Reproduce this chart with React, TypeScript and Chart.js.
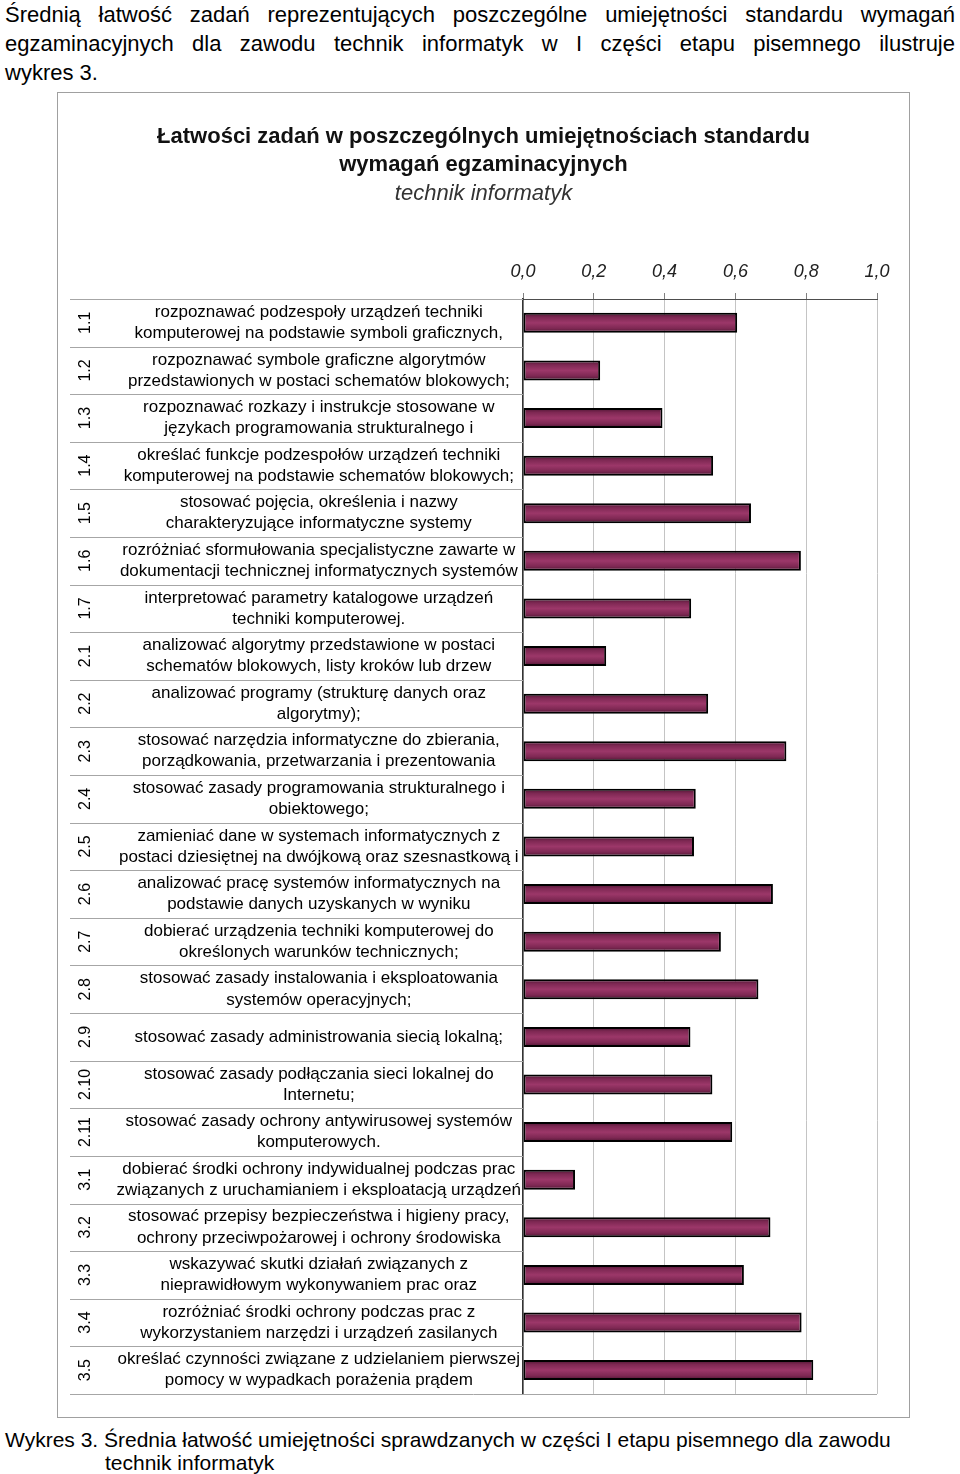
import React, { useEffect, useRef } from 'react';
import { Chart, registerables } from 'chart.js';

Chart.register(...registerables);

const FONT = '"Liberation Sans", Arial, Helvetica, sans-serif';

const introLines = [
  'Średnią łatwość zadań reprezentujących poszczególne umiejętności standardu wymagań',
  'egzaminacyjnych dla zawodu technik informatyk w I części etapu pisemnego ilustruje',
  'wykres 3.',
];

const chartTitle = ['Łatwości zadań w poszczególnych umiejętnościach standardu', 'wymagań egzaminacyjnych'];
const chartSubtitle = 'technik informatyk';

const captionLead = 'Wykres 3.';
const captionLine1 = 'Średnia łatwość umiejętności sprawdzanych w części I etapu pisemnego dla zawodu';
const captionLine2 = 'technik informatyk';

const codes = [
  '1.1', '1.2', '1.3', '1.4', '1.5', '1.6', '1.7',
  '2.1', '2.2', '2.3', '2.4', '2.5', '2.6', '2.7', '2.8', '2.9', '2.10', '2.11',
  '3.1', '3.2', '3.3', '3.4', '3.5',
];

const descriptions: string[][] = [
  ['rozpoznawać podzespoły urządzeń techniki', 'komputerowej na podstawie symboli graficznych,'],
  ['rozpoznawać symbole graficzne algorytmów', 'przedstawionych w postaci schematów blokowych;'],
  ['rozpoznawać rozkazy i instrukcje stosowane w', 'językach programowania strukturalnego i'],
  ['określać funkcje podzespołów urządzeń techniki', 'komputerowej na podstawie schematów blokowych;'],
  ['stosować pojęcia, określenia i nazwy', 'charakteryzujące informatyczne systemy'],
  ['rozróżniać sformułowania specjalistyczne zawarte w', 'dokumentacji technicznej informatycznych systemów'],
  ['interpretować parametry katalogowe urządzeń', 'techniki komputerowej.'],
  ['analizować algorytmy przedstawione w postaci', 'schematów blokowych, listy kroków lub drzew'],
  ['analizować programy (strukturę danych oraz', 'algorytmy);'],
  ['stosować narzędzia informatyczne do zbierania,', 'porządkowania, przetwarzania i prezentowania'],
  ['stosować zasady programowania strukturalnego i', 'obiektowego;'],
  ['zamieniać dane w systemach informatycznych z', 'postaci dziesiętnej na dwójkową oraz szesnastkową i'],
  ['analizować pracę systemów informatycznych na', 'podstawie danych uzyskanych w wyniku'],
  ['dobierać urządzenia techniki komputerowej do', 'określonych warunków technicznych;'],
  ['stosować zasady instalowania i eksploatowania', 'systemów operacyjnych;'],
  ['stosować zasady administrowania siecią lokalną;'],
  ['stosować zasady podłączania sieci lokalnej do', 'Internetu;'],
  ['stosować zasady ochrony antywirusowej systemów', 'komputerowych.'],
  ['dobierać środki ochrony indywidualnej podczas prac', 'związanych z uruchamianiem i eksploatacją urządzeń'],
  ['stosować przepisy bezpieczeństwa i higieny pracy,', 'ochrony przeciwpożarowej i ochrony środowiska'],
  ['wskazywać skutki działań związanych z', 'nieprawidłowym wykonywaniem prac oraz'],
  ['rozróżniać środki ochrony podczas prac z', 'wykorzystaniem narzędzi i urządzeń zasilanych'],
  ['określać czynności związane z udzielaniem pierwszej', 'pomocy w wypadkach porażenia prądem'],
];

const values = [
  0.605, 0.218, 0.394, 0.537, 0.644, 0.785, 0.475,
  0.235, 0.523, 0.744, 0.488, 0.483, 0.706, 0.559, 0.665, 0.473, 0.535, 0.591,
  0.147, 0.699, 0.624, 0.787, 0.820,
];

const xTickLabels = ['0,0', '0,2', '0,4', '0,6', '0,8', '1,0'];

const leftDecorPlugin = {
  id: 'leftDecor',
  afterDraw(chart: any) {
    const { ctx, chartArea } = chart;
    const y = chart.scales.y;
    if (!y) return;
    const n = codes.length;
    const half = (y.getPixelForValue(1) - y.getPixelForValue(0)) / 2;
    ctx.save();
    ctx.strokeStyle = '#a6a6a6';
    ctx.lineWidth = 1;
    for (let i = 0; i <= n; i++) {
      const yy = Math.round(y.getPixelForValue(i) - half) + 0.5;
      ctx.beginPath();
      ctx.moveTo(12, yy);
      ctx.lineTo(i === n ? chartArea.right : chartArea.left, yy);
      ctx.stroke();
    }
    ctx.fillStyle = '#000';
    ctx.font = `16px ${FONT}`;
    ctx.textAlign = 'center';
    ctx.textBaseline = 'middle';
    for (let i = 0; i < n; i++) {
      const yc = y.getPixelForValue(i);
      ctx.save();
      ctx.translate(28, yc);
      ctx.rotate(-Math.PI / 2);
      ctx.fillText(codes[i], 0, 0);
      ctx.restore();
    }
    ctx.restore();
  },
};

export default function App() {
  const canvasRef = useRef<HTMLCanvasElement | null>(null);

  useEffect(() => {
    const canvas = canvasRef.current;
    if (!canvas) return;
    const chart = new Chart(canvas, {
      type: 'bar',
      data: {
        labels: codes,
        datasets: [
          {
            data: values,
            backgroundColor: (c: any) => {
              const ch = c.chart;
              const ys = ch.scales && ch.scales.y;
              if (!ys || c.dataIndex === undefined) return '#8a2d5c';
              const yc = ys.getPixelForValue(c.dataIndex);
              if (!isFinite(yc)) return '#8a2d5c';
              const h = 10;
              const g = ch.ctx.createLinearGradient(0, yc - h, 0, yc + h);
              g.addColorStop(0, '#4a1430');
              g.addColorStop(0.22, '#7e2853');
              g.addColorStop(0.5, '#9c3769');
              g.addColorStop(0.78, '#7e2853');
              g.addColorStop(1, '#4a1430');
              return g;
            },
            borderColor: '#000000',
            borderWidth: 2,
            borderSkipped: false,
            barPercentage: 0.42,
            categoryPercentage: 1,
          },
        ],
      },
      options: {
        indexAxis: 'y',
        responsive: true,
        maintainAspectRatio: false,
        animation: false,
        layout: { padding: { left: 32, right: 32, top: 0, bottom: 15 } },
        plugins: {
          legend: { display: false },
          tooltip: { enabled: false },
          title: {
            display: true,
            text: chartTitle,
            color: '#111111',
            font: { family: FONT, size: 22, weight: 'bold', lineHeight: 1.273 },
            padding: { top: 30, bottom: 0 },
          },
          subtitle: {
            display: true,
            text: chartSubtitle,
            color: '#333333',
            font: { family: FONT, size: 22, style: 'italic', lineHeight: 1.2 },
            padding: { top: 1.8, bottom: 0 },
          },
        },
        scales: {
          x: {
            position: 'top',
            min: 0,
            max: 1,
            afterFit: (s: any) => {
              s.height = 91.8;
            },
            ticks: {
              stepSize: 0.2,
              padding: 10,
              color: '#222222',
              font: { family: FONT, size: 18, style: 'italic' },
              callback: (v: any) => xTickLabels[Math.round(Number(v) / 0.2)],
            },
            grid: { color: '#c4c4c4', tickColor: '#808080', tickLength: 6, lineWidth: 1 },
            border: { display: true, color: '#4d4d4d', width: 1 },
          },
          y: {
            type: 'category',
            afterFit: (s: any) => {
              s.width = 433;
            },
            ticks: {
              autoSkip: false,
              crossAlign: 'center',
              padding: 2,
              color: '#000000',
              font: { family: FONT, size: 17, lineHeight: 1.24 },
              callback: (_v: any, i: number) => descriptions[i],
            },
            grid: { display: false, drawTicks: false },
            border: { display: true, color: '#333333', width: 1.5 },
          },
        },
      },
      plugins: [leftDecorPlugin],
    } as any);
    return () => chart.destroy();
  }, []);

  const lineStyle: React.CSSProperties = {
    position: 'absolute',
    left: 5,
    width: 950,
    fontSize: 22,
    lineHeight: '29px',
    whiteSpace: 'nowrap',
  };

  return (
    <div
      style={{
        position: 'absolute',
        left: 0,
        top: 0,
        width: 960,
        height: 1474,
        fontFamily: FONT,
        color: '#000',
        overflow: 'hidden',
      }}
    >
      <div style={{ ...lineStyle, top: 0, textAlign: 'justify', textAlignLast: 'justify', whiteSpace: 'normal' }}>
        {introLines[0]}
      </div>
      <div style={{ ...lineStyle, top: 29, textAlign: 'justify', textAlignLast: 'justify', whiteSpace: 'normal' }}>
        {introLines[1]}
      </div>
      <div style={{ ...lineStyle, top: 58 }}>{introLines[2]}</div>

      <div
        style={{
          position: 'absolute',
          left: 57,
          top: 92,
          width: 853,
          height: 1326,
          border: '1px solid #a0a0a0',
          boxSizing: 'border-box',
          background: '#fff',
        }}
      >
        <div style={{ position: 'relative', width: 851, height: 1324 }}>
          <canvas ref={canvasRef} />
        </div>
      </div>

      <div style={{ position: 'absolute', left: 5, top: 1429, fontSize: 21, lineHeight: '22px', whiteSpace: 'nowrap' }}>
        {captionLead} {captionLine1}
      </div>
      <div style={{ position: 'absolute', left: 105, top: 1452, fontSize: 21, lineHeight: '22px', whiteSpace: 'nowrap' }}>
        {captionLine2}
      </div>
    </div>
  );
}
